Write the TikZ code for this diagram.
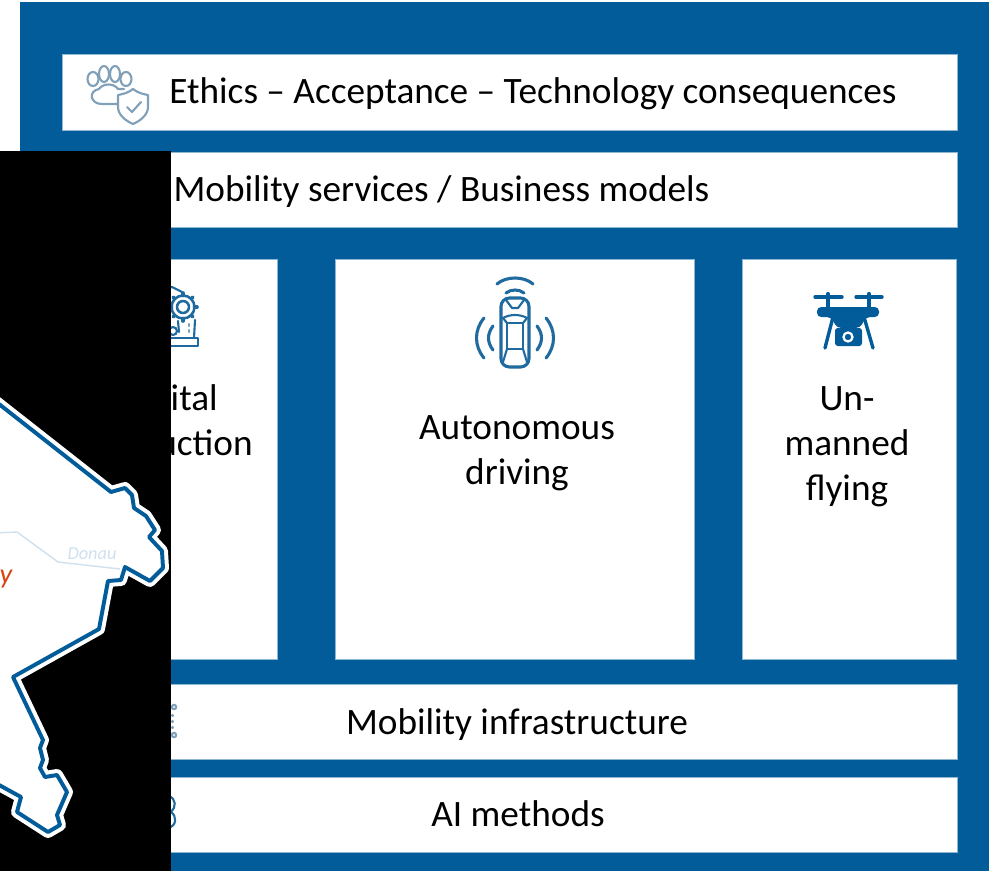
\documentclass[tikz,border=0pt]{standalone}
\usepackage{fontspec}
\setmainfont{Carlito}
\usetikzlibrary{calc,positioning,fit}
\definecolor{kiblue}{HTML}{025C9A}
\definecolor{iconblue}{HTML}{1F6A9E}
\definecolor{icongrey}{HTML}{7FA0B8}
\definecolor{riverblue}{HTML}{CFE0EE}
\definecolor{cityred}{HTML}{D8430F}

\begin{document}
\begin{tikzpicture}[
      x=0.025cm,
      y=-0.025cm,
      align=center,
      panel/.style={
        rectangle,
        draw=kiblue!45,
        fill=white,
        line width=0.4pt,
        inner sep=0pt
      },
      caption/.style={
        font=\fontsize{26.5}{32}\selectfont,
        inner sep=0pt
      },
      iconline/.style={
        draw=#1,
        line width=1.5pt,
        line join=round,
        line cap=round
      },
      iconline/.default=iconblue
    ]

      \useasboundingbox (0,0) rectangle (989,871);
      \node[fill=kiblue, inner sep=0pt, fit={(20,2) (989,871)}] (frame) {};

      % stacked panels
      \node[panel, fit={(62,54) (957,130)}] (ethics) {};
      \node[panel, fit={(62,152) (957,227)}] (services) {};
      \node[panel, fit={(62,259) (277,659)}] (production) {};
      \node[panel, fit={(335,259) (694,659)}] (driving) {};
      \node[panel, fit={(742,259) (956,659)}] (flying) {};
      \node[panel, fit={(62,684) (957,759)}] (infrastructure) {};
      \node[panel, fit={(62,777) (957,852)}] (methods) {};

      \node[caption] (ethicstext) at (533,94) {Ethics -- Acceptance -- Technology consequences};
      \node[caption] (servicestext) at (441.5,192) {Mobility services / Business models};
      \node[caption] (drivingtext) at (517,453) {Autonomous\\driving};
      \node[caption] (flyingtext) at (847,446.5) {Un-\\manned\\flying};
      \node[caption] (infratext) at (517,725) {Mobility infrastructure};
      \node[caption] (methodstext) at (518,814) {AI methods};
      \node[caption, anchor=base east] (italtext) at (218,410) {ital};
      \node[caption, anchor=base east] (uctiontext) at (253,455) {uction};

      % paw and shield
      \draw[iconline=icongrey] (93,79) ellipse (5.5 and 7);
      \draw[iconline=icongrey] (104,74) ellipse (5 and 8);
      \draw[iconline=icongrey] (115,74) ellipse (5 and 8);
      \draw[iconline=icongrey] (126,79) ellipse (5.5 and 7);
      \draw[iconline=icongrey] (118,104) -- (102,104) .. controls (90,104) and (88,91) .. (99,89)
        .. controls (103,83) and (114,83) .. (118,89) -- (124,89);
      \draw[iconline=icongrey, fill=white] (133,89) .. controls (128,93) and (123,94) .. (118,95)
        -- (118,107) .. controls (118,115) and (126,121) .. (133,124)
        .. controls (140,121) and (148,115) .. (148,107) -- (148,95)
        .. controls (143,94) and (138,93) .. (133,89) -- cycle;
      \draw[iconline=icongrey] (127,107) -- (132,112) -- (141,102);

      % car with radio waves
      \draw[iconline, line width=2.2pt, rounded corners=6pt] (501,298) rectangle (529,367);
      \draw[iconline] (503,318) .. controls (510,314) and (520,314) .. (527,318);
      \draw[iconline] (507,323) -- (523,323) -- (523,349) -- (507,349) -- cycle;
      \draw[iconline] (507,349) -- (503,362) (523,349) -- (527,362);
      \draw[iconline] (507,323) -- (503,318) (523,323) -- (527,318);
      \draw[iconline] (506,300) -- (512,308) -- (518,308) -- (524,300);
      \draw[iconline, line width=2.2pt] (497,284) .. controls (506,276) and (524,276) .. (533,284);
      \draw[iconline, line width=2.2pt] (506,293) .. controls (511,289) and (519,289) .. (524,293);
      \draw[iconline, line width=2.2pt] (484,318) .. controls (474,330) and (474,346) .. (484,358);
      \draw[iconline, line width=2.2pt] (493,326) .. controls (487,334) and (487,342) .. (493,350);
      \draw[iconline, line width=2.2pt] (546,318) .. controls (556,330) and (556,346) .. (546,358);
      \draw[iconline, line width=2.2pt] (537,326) .. controls (543,334) and (543,342) .. (537,350);

      % drone
      \draw[iconline=kiblue, line width=2.4pt] (815,297) -- (842,297) (856,297) -- (882,297);
      \draw[iconline=kiblue, line width=3pt] (828,294) -- (828,308) (869,294) -- (869,308);
      \fill[kiblue, rounded corners=3pt] (817,307) -- (879,307) -- (879,317) -- (866,317) -- (860,328)
        -- (837,328) -- (831,317) -- (817,317) -- cycle;
      \fill[kiblue, rounded corners=2pt] (835,328) rectangle (862,346);
      \draw[white, line width=1.6pt] (848,337) circle (4.5);
      \draw[iconline=kiblue, line width=2.4pt] (833,317) -- (825,348) (864,317) -- (873,348);

      % gear on its stand
      \draw[iconline, line width=1.8pt] (183,307) circle (6);
      \draw[iconline, line width=1.8pt] (183,307) circle (11.5);
      \foreach \a in {0,45,...,315}
        \draw[iconline, line width=2.6pt] ($(183,307)+(\a:11.5)$) -- ($(183,307)+(\a:14)$);
      \draw[iconline] (160,290) -- (172,287) -- (182,292);
      \draw[iconline] (178,321) -- (179,332) (195,320) -- (194,338);
      \draw[iconline] (173,331) circle (4);
      \draw[iconline=icongrey] (189,324) -- (189,326) (189,330) -- (189,332);
      \draw[iconline] (160,338) rectangle (198,346);

      % pieces of the lower icons
      \draw[iconline=icongrey] (174,707) circle (2.2) (174,735) circle (2.2);
      \draw[iconline=icongrey] (172.5,715) -- (172.5,716) (172.5,721) -- (172.5,722) (172.5,727) -- (172.5,728);
      \draw[iconline] (168,796) .. controls (177,798) and (176,808) .. (171,812)
        .. controls (177,816) and (177,826) .. (168,828);

      % black sheet with the map on it
      \fill[black] (0,151) rectangle (171,871);
      \begin{scope}
        \clip (0,151) rectangle (171,871);
        \coordinate (mapa) at (-10,397);
        \coordinate (mapb) at (-10,780);
        \path[draw=white, fill=white, line width=8.5pt, line join=round] (mapa) -- (111,492) -- (125,488) -- (132,495) -- (134,508)
          -- (146,516) -- (155,530) -- (149,537) -- (162,551) -- (163,568) -- (150,581) -- (125,567)
          -- (121,580) -- (108,581) -- (99,629) -- (13,677) -- (43,740) -- (40,748) -- (43,760)
          -- (40,768) -- (45,777) -- (57,775) -- (67,792) -- (57,815) -- (60,825) -- (48,832)
          -- (17,812) -- (21,797) -- (mapb) -- cycle;
        \draw[riverblue, line width=1pt] (-5,533) -- (17,532) -- (58,562) -- (120,569);
        \draw[kiblue, line width=2.8pt, line join=round] (mapa) -- (111,492) -- (125,488) -- (132,495) -- (134,508)
          -- (146,516) -- (155,530) -- (149,537) -- (162,551) -- (163,568) -- (150,581) -- (125,567)
          -- (121,580) -- (108,581) -- (99,629) -- (13,677) -- (43,740) -- (40,748) -- (43,760)
          -- (40,768) -- (45,777) -- (57,775) -- (67,792) -- (57,815) -- (60,825) -- (48,832)
          -- (17,812) -- (21,797) -- (mapb);
        \node[text=riverblue, inner sep=0pt, font=\fontsize{13}{15}\selectfont\itshape] (donau) at (92,554) {Donau};
        \node[text=cityred, inner sep=0pt, font=\fontsize{20}{22}\selectfont\itshape] (city) at (6,579) {y};
      \end{scope}
    \end{tikzpicture}
\end{document}
